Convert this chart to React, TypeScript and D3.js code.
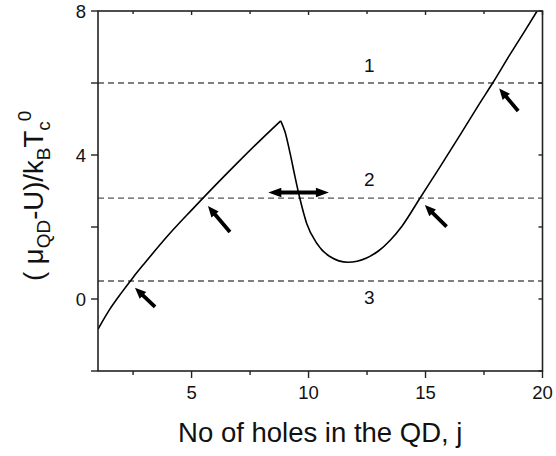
import React from 'react';
import * as d3 from 'd3';

// ---- data ----
const branch1J = [1, 1.5, 2, 2.5, 3, 4, 5, 6, 7, 8, 8.81];
const branch1V = [-0.84, -0.29, 0.17, 0.6, 1.0, 1.77, 2.47, 3.15, 3.81, 4.45, 4.95];
const branch2J = [8.81, 8.99, 9.21, 9.42, 9.63, 9.92, 10.35, 10.91, 11.68, 12.48, 13.0, 13.5, 14.0, 14.76, 15.6, 16.5, 17.3, 17.87, 18.6, 19.2, 19.77];
const branch2V = [4.95, 4.65, 4.05, 3.4, 2.79, 2.1, 1.55, 1.18, 1.02, 1.14, 1.34, 1.64, 2.03, 2.8, 3.65, 4.58, 5.42, 6.0, 6.78, 7.4, 8.0];

const levelValues = [6, 2.8, 0.5];
const levelLabels = ['1', '2', '3'];
const levelLabelJ = [12.6, 12.6, 12.6];
const levelLabelV = [6.5, 3.31, 0.03];

// small arrows: tail (j,v) -> tip (j,v)
const arrowTailJ = [3.44, 6.64, 15.9, 18.96];
const arrowTailV = [-0.22, 1.86, 2.01, 5.22];
const arrowTipJ = [2.58, 5.7, 14.97, 18.15];
const arrowTipV = [0.31, 2.58, 2.61, 5.85];

// double arrow
const dblArrowJ = [8.28, 10.87];
const dblArrowV = 2.96;

const xMajorTicks = [5, 10, 15, 20];
const xMinorTicks = [2.5, 7.5, 12.5, 17.5];
const yMajorTicks = [0, 4, 8];
const yMinorTicks = [-2, 2, 6];

const W = 556;
const H = 456;
const M = { left: 98, right: 542.5, top: 11, bottom: 371 };
const FONT = '"Liberation Sans", Arial, Helvetica, sans-serif';

function arrowPolygon(x1: number, y1: number, x2: number, y2: number, shaftW: number, headL: number, headW: number) {
  const dx = x2 - x1, dy = y2 - y1;
  const L = Math.hypot(dx, dy);
  const ux = dx / L, uy = dy / L;
  const nx = -uy, ny = ux;
  const bx = x2 - ux * headL, by = y2 - uy * headL;
  const s = shaftW / 2, h = headW / 2;
  const pts = [
    [x1 + nx * s, y1 + ny * s],
    [bx + nx * s, by + ny * s],
    [bx + nx * h, by + ny * h],
    [x2, y2],
    [bx - nx * h, by - ny * h],
    [bx - nx * s, by - ny * s],
    [x1 - nx * s, y1 - ny * s],
  ];
  return pts.map((p) => p.join(',')).join(' ');
}

function doubleArrowPolygon(x1: number, x2: number, y: number, shaftW: number, headL: number, headW: number) {
  const s = shaftW / 2, h = headW / 2;
  const pts = [
    [x1, y],
    [x1 + headL, y - h],
    [x1 + headL, y - s],
    [x2 - headL, y - s],
    [x2 - headL, y - h],
    [x2, y],
    [x2 - headL, y + h],
    [x2 - headL, y + s],
    [x1 + headL, y + s],
    [x1 + headL, y + h],
  ];
  return pts.map((p) => p.join(',')).join(' ');
}

export default function App() {
  const x = d3.scaleLinear().domain([1, 20]).range([M.left, M.right]);
  const y = d3.scaleLinear().domain([-2, 8]).range([M.bottom, M.top]);

  const line1 = d3
    .line<number>()
    .x((d) => x(branch1J[d]))
    .y((d) => y(branch1V[d]))
    .curve(d3.curveMonotoneX);
  const line2 = d3
    .line<number>()
    .x((d) => x(branch2J[d]))
    .y((d) => y(branch2V[d]))
    .curve(d3.curveMonotoneX);

  const axisColor = '#222';
  const tickFont = 18.5;

  return (
    <svg
      width={W}
      height={H}
      style={{ position: 'absolute', left: 0, top: 0, background: '#fff' }}
      fontFamily={FONT}
    >
      <rect x={0} y={0} width={W} height={H} fill="#fff" />
      <defs>
        <clipPath id="plotclip">
          <rect x={M.left} y={M.top} width={M.right - M.left} height={M.bottom - M.top} />
        </clipPath>
      </defs>

      {/* dashed levels */}
      {levelValues.map((v, i) => (
        <line
          key={'lv' + i}
          x1={M.left}
          x2={M.right}
          y1={y(v)}
          y2={y(v)}
          stroke="#555"
          strokeWidth={1.3}
          strokeDasharray="6,4"
        />
      ))}
      {levelLabels.map((t, i) => (
        <text
          key={'ll' + i}
          x={x(levelLabelJ[i])}
          y={y(levelLabelV[i])}
          fontSize={19}
          textAnchor="middle"
          dominantBaseline="central"
          fill="#111"
        >
          {t}
        </text>
      ))}

      {/* curve */}
      <g clipPath="url(#plotclip)">
        <path d={line1(d3.range(branch1J.length)) || ''} fill="none" stroke="#000" strokeWidth={1.6} strokeLinejoin="miter" />
        <path d={line2(d3.range(branch2J.length)) || ''} fill="none" stroke="#000" strokeWidth={1.6} strokeLinejoin="miter" />
      </g>

      {/* arrows */}
      {arrowTipJ.map((_, i) => (
        <polygon
          key={'ar' + i}
          points={arrowPolygon(x(arrowTailJ[i]), y(arrowTailV[i]), x(arrowTipJ[i]), y(arrowTipV[i]), 3.8, 11, 9.5)}
          fill="#000"
        />
      ))}
      <polygon
        points={doubleArrowPolygon(x(dblArrowJ[0]), x(dblArrowJ[1]), y(dblArrowV), 4, 13, 9.5)}
        fill="#000"
      />

      {/* frame */}
      <rect
        x={M.left}
        y={M.top}
        width={M.right - M.left}
        height={M.bottom - M.top}
        fill="none"
        stroke={axisColor}
        strokeWidth={1.6}
      />

      {/* x ticks */}
      {xMajorTicks.map((t) => (
        <g key={'xM' + t}>
          <line x1={x(t)} x2={x(t)} y1={M.bottom} y2={M.bottom + 7} stroke={axisColor} strokeWidth={1.4} />
          <line x1={x(t)} x2={x(t)} y1={M.top} y2={M.top + 4} stroke={axisColor} strokeWidth={1.4} />
          <text x={x(t)} y={399} fontSize={tickFont} textAnchor="middle" fill="#111">
            {t}
          </text>
        </g>
      ))}
      {xMinorTicks.map((t) => (
        <g key={'xm' + t}>
          <line x1={x(t)} x2={x(t)} y1={M.bottom} y2={M.bottom + 4} stroke={axisColor} strokeWidth={1.4} />
          <line x1={x(t)} x2={x(t)} y1={M.top} y2={M.top + 3} stroke={axisColor} strokeWidth={1.4} />
        </g>
      ))}

      {/* y ticks */}
      {yMajorTicks.map((t) => (
        <g key={'yM' + t}>
          <line x1={M.left - 7} x2={M.left} y1={y(t)} y2={y(t)} stroke={axisColor} strokeWidth={1.4} />
          <line x1={M.right - 4} x2={M.right} y1={y(t)} y2={y(t)} stroke={axisColor} strokeWidth={1.4} />
          <text x={86} y={y(t)} fontSize={tickFont} textAnchor="end" dominantBaseline="central" fill="#111">
            {t}
          </text>
        </g>
      ))}
      {yMinorTicks.map((t) => (
        <g key={'ym' + t}>
          <line x1={M.left - 7} x2={M.left} y1={y(t)} y2={y(t)} stroke={axisColor} strokeWidth={1.4} />
          <line x1={M.right - 4} x2={M.right} y1={y(t)} y2={y(t)} stroke={axisColor} strokeWidth={1.4} />
        </g>
      ))}

      {/* x title */}
      <text x={(M.left + M.right) / 2} y={442} fontSize={27.5} textAnchor="middle" fill="#111">
        No of holes in the QD, j
      </text>

      {/* y title */}
      <text transform="translate(43,281) rotate(-90)" fontSize={27.5} fill="#111">
        <tspan>( μ</tspan>
        <tspan fontSize={19} dy={7}>QD</tspan>
        <tspan dy={-7}>-U)/k</tspan>
        <tspan fontSize={19} dy={7}>B</tspan>
        <tspan dy={-7}>T</tspan>
        <tspan fontSize={19} dy={7}>c</tspan>
        <tspan fontSize={19} dy={-19}>0</tspan>
      </text>
    </svg>
  );
}
